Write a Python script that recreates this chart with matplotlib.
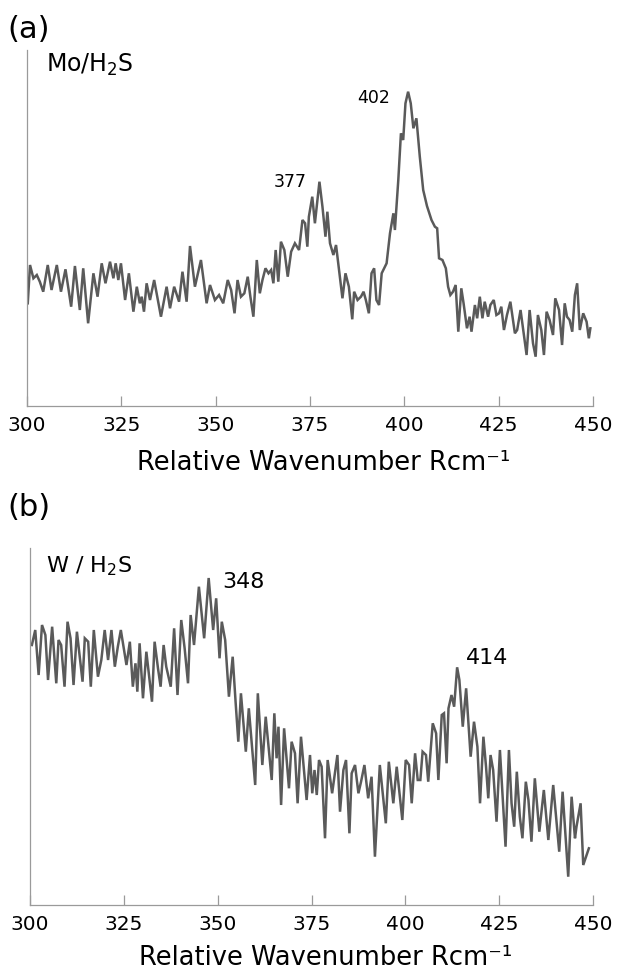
import matplotlib
matplotlib.use("Agg")
import matplotlib.pyplot as plt

# ---------------- data ----------------
wn_a = [300.2, 300.8, 301.7, 302.6, 303.4, 304.3, 305.5, 306.5, 307.9, 309.0,
        310.2, 311.7, 312.7, 314.0, 314.9, 316.2, 317.6, 318.7, 319.8, 320.8,
        322.0, 322.9, 323.5, 324.2, 324.9, 326.0, 327.0, 328.2, 329.1, 329.9,
        330.4, 331.0, 331.7, 332.6, 333.7, 335.5, 337.0, 337.9, 339.0, 340.3,
        341.2, 342.3, 343.2, 344.5, 346.1, 347.6, 348.5, 349.8, 350.9, 352.0,
        353.2, 354.1, 355.0, 355.8, 356.7, 357.6, 358.5, 359.2, 360.0, 360.9,
        361.7, 362.4, 363.2, 364.0, 364.7, 365.3, 365.9, 366.6, 367.3, 368.2,
        369.1, 370.0, 371.0, 372.1, 373.0, 373.7, 374.3, 374.7, 375.6, 376.3,
        377.5, 378.3, 379.1, 379.6, 380.3, 381.2, 381.9, 382.8, 383.6, 384.4,
        385.3, 386.2, 386.7, 387.6, 388.5, 389.2, 389.8, 390.6, 391.3, 392.0,
        392.6, 393.3, 394.0, 395.3, 396.2, 397.1, 397.5, 398.4, 399.1, 399.7,
        400.3, 401.0, 401.7, 402.4, 403.2, 404.1, 405.0, 406.0, 407.2, 408.1,
        408.7, 409.2, 410.1, 411.0, 411.6, 412.2, 412.9, 413.6, 414.3, 415.1,
        415.7, 416.6, 417.3, 417.8, 418.7, 419.3, 420.0, 420.7, 421.3, 422.2,
        422.8, 423.7, 424.4, 425.1, 425.7, 426.4, 427.2, 428.1, 429.3, 429.9,
        430.8, 432.4, 433.2, 434.1, 434.8, 435.4, 436.3, 437.0, 437.7, 438.5,
        439.4, 440.0, 441.0, 441.8, 442.5, 443.1, 443.8, 444.5, 445.2, 445.8,
        446.5, 447.4, 448.3, 448.9, 449.3]
int_a = [102.7, 141.0, 127.7, 131.0, 124.3, 114.3, 141.0, 116.0, 141.0, 114.3,
         136.7, 99.3, 140.0, 96.0, 137.7, 82.7, 132.7, 109.3, 142.7, 122.7,
         144.3, 127.7, 142.7, 126.0, 142.7, 106.0, 132.7, 94.3, 119.3, 102.7,
         109.3, 94.3, 122.7, 106.0, 126.0, 89.3, 119.3, 97.7, 119.3, 104.3,
         134.3, 104.3, 160.0, 119.3, 146.0, 102.7, 121.0, 106.0, 111.0, 102.7,
         126.0, 116.0, 92.7, 126.0, 109.3, 112.7, 129.3, 109.3, 89.3, 146.0,
         112.7, 126.0, 137.7, 132.7, 136.0, 122.7, 156.0, 124.3, 164.3, 156.0,
         129.3, 154.3, 162.7, 156.0, 186.0, 182.7, 159.3, 189.3, 209.3, 182.7,
         224.3, 199.3, 169.3, 194.3, 162.7, 151.0, 161.0, 132.7, 107.7, 132.7,
         119.3, 86.7, 114.3, 106.0, 109.3, 114.3, 106.0, 92.7, 132.7, 137.7,
         106.0, 101.0, 132.7, 142.7, 172.7, 192.7, 176.0, 226.0, 272.7, 266.0,
         302.7, 314.3, 302.7, 277.7, 287.7, 249.3, 216.0, 200.0, 186.0, 179.3,
         177.7, 147.7, 146.0, 137.7, 119.3, 111.0, 114.3, 121.0, 74.3, 117.7,
         102.7, 77.7, 89.3, 74.3, 101.0, 87.7, 109.3, 87.7, 104.3, 89.3,
         101.0, 106.0, 91.0, 92.7, 99.3, 76.0, 91.0, 104.3, 72.7, 76.0,
         96.0, 51.0, 96.0, 62.7, 49.3, 91.0, 76.0, 51.0, 94.3, 86.0,
         71.0, 107.7, 96.0, 61.0, 102.7, 89.3, 86.0, 74.3, 111.0, 122.7,
         76.0, 92.7, 84.3, 67.7, 77.7]

wn_b = [300.5, 301.4, 302.3, 303.2, 304.1, 304.8, 305.9, 307.0, 307.6, 308.3,
        309.2, 310.0, 310.8, 311.6, 312.5, 314.0, 314.6, 315.5, 316.2, 317.0,
        318.1, 319.0, 319.9, 320.8, 321.7, 322.6, 323.4, 324.2, 325.7, 326.6,
        327.4, 328.1, 328.6, 329.2, 330.1, 331.0, 332.5, 333.2, 334.1, 334.8,
        335.6, 336.3, 337.5, 338.4, 339.3, 340.3, 341.2, 342.1, 342.8, 343.7,
        345.0, 346.4, 347.6, 348.8, 349.6, 350.5, 351.1, 352.0, 353.0, 354.0,
        354.8, 355.5, 356.2, 357.5, 358.3, 360.0, 360.7, 361.9, 362.8, 364.4,
        365.1, 365.7, 366.2, 366.9, 367.7, 369.0, 369.7, 370.6, 371.3, 372.2,
        373.7, 374.6, 375.2, 375.8, 376.4, 377.0, 377.7, 378.6, 379.3, 380.5,
        381.9, 382.6, 383.5, 384.2, 385.1, 385.7, 386.6, 387.5, 388.2, 389.1,
        390.1, 391.0, 391.9, 393.2, 394.8, 395.6, 396.8, 397.7, 399.2, 400.1,
        401.0, 401.7, 402.6, 403.3, 404.0, 404.6, 405.5, 406.1, 407.3, 408.2,
        408.8, 409.7, 410.3, 411.0, 411.5, 412.3, 413.0, 413.8, 414.4, 415.3,
        416.2, 417.4, 418.3, 419.2, 419.9, 420.8, 421.5, 422.1, 422.7, 423.4,
        424.3, 425.2, 426.7, 427.6, 428.3, 429.0, 429.7, 430.5, 431.2, 432.1,
        432.8, 433.6, 434.5, 435.7, 436.9, 438.1, 439.4, 441.0, 441.9, 443.4,
        444.3, 445.2, 445.6, 446.7, 447.4, 448.9]
int_b = [260.0, 275.0, 230.0, 280.0, 270.0, 225.0, 278.3, 221.7, 265.0, 260.0,
         218.3, 283.3, 266.7, 220.0, 273.3, 223.3, 266.7, 263.3, 218.3, 275.0,
         228.3, 245.0, 275.0, 245.0, 275.0, 238.3, 258.3, 275.0, 240.0, 263.3,
         218.3, 241.7, 213.3, 261.7, 206.7, 253.3, 203.3, 263.3, 236.7, 218.3,
         260.0, 238.3, 218.3, 276.7, 210.0, 285.0, 256.7, 221.7, 290.0, 260.0,
         318.3, 266.7, 327.0, 275.0, 306.7, 246.7, 283.3, 265.0, 208.3, 248.3,
         201.7, 163.3, 211.7, 153.3, 196.7, 120.0, 211.7, 140.0, 188.3, 125.0,
         191.7, 146.7, 178.3, 100.0, 176.7, 116.7, 163.3, 151.7, 101.7, 168.3,
         105.0, 150.0, 111.7, 135.0, 110.0, 145.0, 138.3, 66.7, 145.0, 111.7,
         150.0, 93.3, 135.0, 145.0, 71.7, 131.7, 140.0, 111.7, 123.3, 140.0,
         106.7, 128.3, 48.3, 140.0, 81.7, 143.3, 101.7, 138.3, 85.0, 145.0,
         140.0, 101.7, 151.7, 125.0, 125.0, 153.3, 150.0, 123.3, 181.7, 171.7,
         125.0, 190.0, 191.7, 141.7, 196.7, 210.0, 198.3, 237.7, 225.0, 178.3,
         216.7, 148.3, 183.3, 158.3, 101.7, 168.3, 138.3, 106.7, 150.0, 135.0,
         83.3, 155.0, 58.3, 155.0, 101.7, 78.3, 133.3, 88.3, 66.7, 123.3,
         105.0, 63.3, 126.7, 73.3, 115.0, 65.0, 120.0, 53.3, 113.3, 28.3,
         108.3, 66.7, 78.3, 101.7, 40.0, 56.7]

xticks = [300, 325, 350, 375, 400, 425, 450]
xlabel = "Relative Wavenumber Rcm\u207b\u00b9"
panel_labels = ["(a)", "(b)"]
sample_labels = ["Mo/H$_2$S", "W / H$_2$S"]
peaks_a = [377, 402]
peaks_b = [348, 414]

# ---------------- figure ----------------
W, H = 618, 976
fig = plt.figure(figsize=(W / 100, H / 100), dpi=100)
plt.rcParams['font.family'] = ['DejaVu Sans']
plt.rcParams['mathtext.fontset'] = 'dejavusans'

def fx(px):
    return px / W

def fy(py):
    return 1 - py / H

spine_col = '#9a9a9a'
line_col = '#5a5a5a'

ax_a = fig.add_axes([fx(27), fy(406), fx(593) - fx(27), fy(50) - fy(406)])
ax_b = fig.add_axes([fx(30), fy(905), fx(593) - fx(30), fy(548) - fy(905)])

for ax, wn, it, ytop in [(ax_a, wn_a, int_a, 356), (ax_b, wn_b, int_b, 357)]:
    ax.plot(wn, it, color=line_col, lw=1.8, solid_joinstyle='miter')
    ax.set_xlim(300, 450)
    ax.set_ylim(0, ytop)
    ax.set_xticks(xticks)
    ax.set_xticklabels([str(t) for t in xticks])
    ax.set_yticks([])
    for s in ['top', 'right']:
        ax.spines[s].set_visible(False)
    for s in ['left', 'bottom']:
        ax.spines[s].set_color(spine_col)
        ax.spines[s].set_linewidth(0.9)
    ax.tick_params(axis='x', direction='in', length=7, width=0.9,
                   color=spine_col, labelsize=14.5, pad=7, labelcolor='black')
    ax.patch.set_alpha(0)

# panel letters
fig.text(fx(7), fy(29), panel_labels[0], fontsize=22, va='center', ha='left')
fig.text(fx(7), fy(508), panel_labels[1], fontsize=22, va='center', ha='left')

# sample labels
fig.text(fx(46), fy(72), sample_labels[0], fontsize=17, va='baseline', ha='left')
fig.text(fx(46), fy(572), sample_labels[1], fontsize=16, va='baseline', ha='left')

# peak labels
ax_a.text(374.2, 219, str(peaks_a[0]), fontsize=12.5, ha='right', va='baseline')
ax_a.text(396.2, 303, str(peaks_a[1]), fontsize=12.5, ha='right', va='baseline')
ax_b.text(351.1, 317, str(peaks_b[0]), fontsize=16, ha='left', va='baseline')
ax_b.text(416.2, 241, str(peaks_b[1]), fontsize=16, ha='left', va='baseline')

# axis titles
fig.text(fx(324), fy(463), xlabel, fontsize=18.5, ha='center', va='center')
fig.text(fx(326), fy(958), xlabel, fontsize=18.5, ha='center', va='center')

fig.savefig("out.png", dpi=100)
